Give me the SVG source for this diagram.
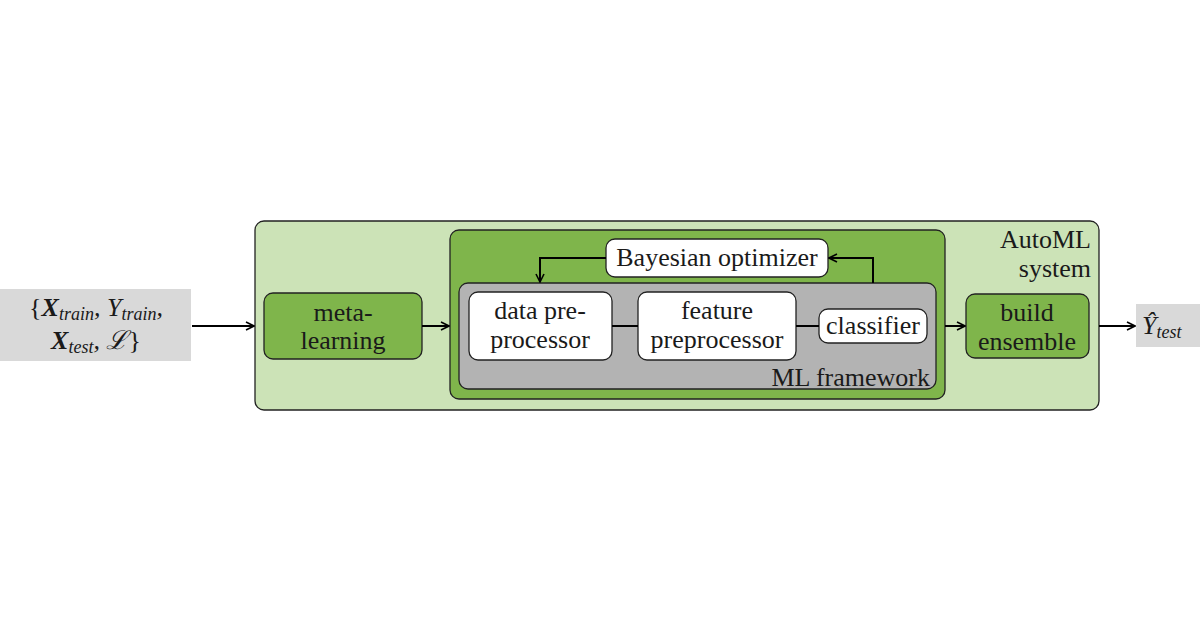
<svg xmlns="http://www.w3.org/2000/svg" width="1200" height="630" viewBox="0 0 1200 630">
<defs>
<marker id="ah" viewBox="0 0 10 10" refX="9" refY="5" markerWidth="10" markerHeight="10" markerUnits="userSpaceOnUse" orient="auto">
<path d="M1,1 L9,5 L1,9" fill="none" stroke="#000" stroke-width="1.6"/>
</marker>
<style>
text{font-family:"Liberation Serif","DejaVu Serif",serif;font-size:26px;fill:#1a1a1a}
.m{text-anchor:middle}
.e{text-anchor:end}
.box{stroke:#222;stroke-width:1.3}
.c{stroke:#000;stroke-width:2;fill:none}
.it{font-style:italic}
.sub{font-style:italic;font-size:18px}
</style>
</defs>
<rect width="1200" height="630" fill="#fff"/>
<g id="automl">
<rect class="box" x="255" y="221" width="844" height="189" rx="9" fill="#cce3b7"/>
<text class="e" x="1091" y="248">AutoML</text>
<text class="e" x="1091" y="277">system</text>
</g>
<g id="optloop">
<rect class="box" x="450" y="230" width="495" height="169" rx="9" fill="#7fb54b"/>
</g>
<g id="mlframework">
<rect class="box" x="459" y="283" width="477" height="106" rx="9" fill="#b3b3b3"/>
<text class="e" x="930" y="386">ML framework</text>
</g>
<g id="input">
<rect x="0" y="289" width="191" height="72" fill="#d9d9d9"/>
<text class="m" x="96" y="316">{<tspan font-weight="bold" class="it">X</tspan><tspan class="sub" dy="4">train</tspan><tspan dy="-4" class="it">, Y</tspan><tspan class="sub" dy="4">train</tspan><tspan dy="-4" class="it">,</tspan></text>
<text class="m" x="96" y="349"><tspan font-weight="bold" class="it">X</tspan><tspan class="sub" dy="4">test</tspan><tspan dy="-4" class="it">, ℒ</tspan>}</text>
</g>
<g id="meta">
<rect class="box" x="264" y="293" width="158" height="66" rx="9" fill="#7fb54b"/>
<text class="m" x="343" y="321">meta-</text>
<text class="m" x="343" y="349">learning</text>
</g>
<g id="bayes">
<rect class="box" x="606" y="239" width="222" height="38" rx="9" fill="#fff"/>
<text class="m" x="717" y="266">Bayesian optimizer</text>
</g>
<g id="datapre">
<rect class="box" x="469" y="292" width="143" height="68" rx="9" fill="#fff"/>
<text class="m" x="540" y="319">data pre-</text>
<text class="m" x="540" y="348">processor</text>
</g>
<g id="featpre">
<rect class="box" x="638" y="292" width="158" height="68" rx="9" fill="#fff"/>
<text class="m" x="717" y="319">feature</text>
<text class="m" x="717" y="348">preprocessor</text>
</g>
<g id="classifier">
<rect class="box" x="819" y="309" width="108" height="34" rx="9" fill="#fff"/>
<text class="m" x="873" y="334">classifier</text>
</g>
<g id="build">
<rect class="box" x="966" y="294" width="123" height="64" rx="9" fill="#7fb54b"/>
<text class="m" x="1027" y="321">build</text>
<text class="m" x="1027" y="350">ensemble</text>
</g>
<g id="output">
<rect x="1136" y="304" width="64" height="43" fill="#d9d9d9"/>
<text x="1142" y="334"><tspan class="it">Ŷ</tspan><tspan class="sub" dy="4">test</tspan></text>
</g>
<g id="connectors">
<line class="c" x1="192" y1="326" x2="254" y2="326" marker-end="url(#ah)"/>
<line class="c" x1="422" y1="326" x2="449" y2="326" marker-end="url(#ah)"/>
<line class="c" x1="945" y1="326" x2="965" y2="326" marker-end="url(#ah)"/>
<line class="c" x1="1099" y1="326" x2="1135" y2="326" marker-end="url(#ah)"/>
<line class="c" x1="612" y1="326" x2="638" y2="326"/>
<line class="c" x1="796" y1="326" x2="819" y2="326"/>
<polyline class="c" points="606,258 540,258 540,282" marker-end="url(#ah)"/>
<polyline class="c" points="873,283 873,258 829,258" marker-end="url(#ah)"/>
</g>
</svg>
